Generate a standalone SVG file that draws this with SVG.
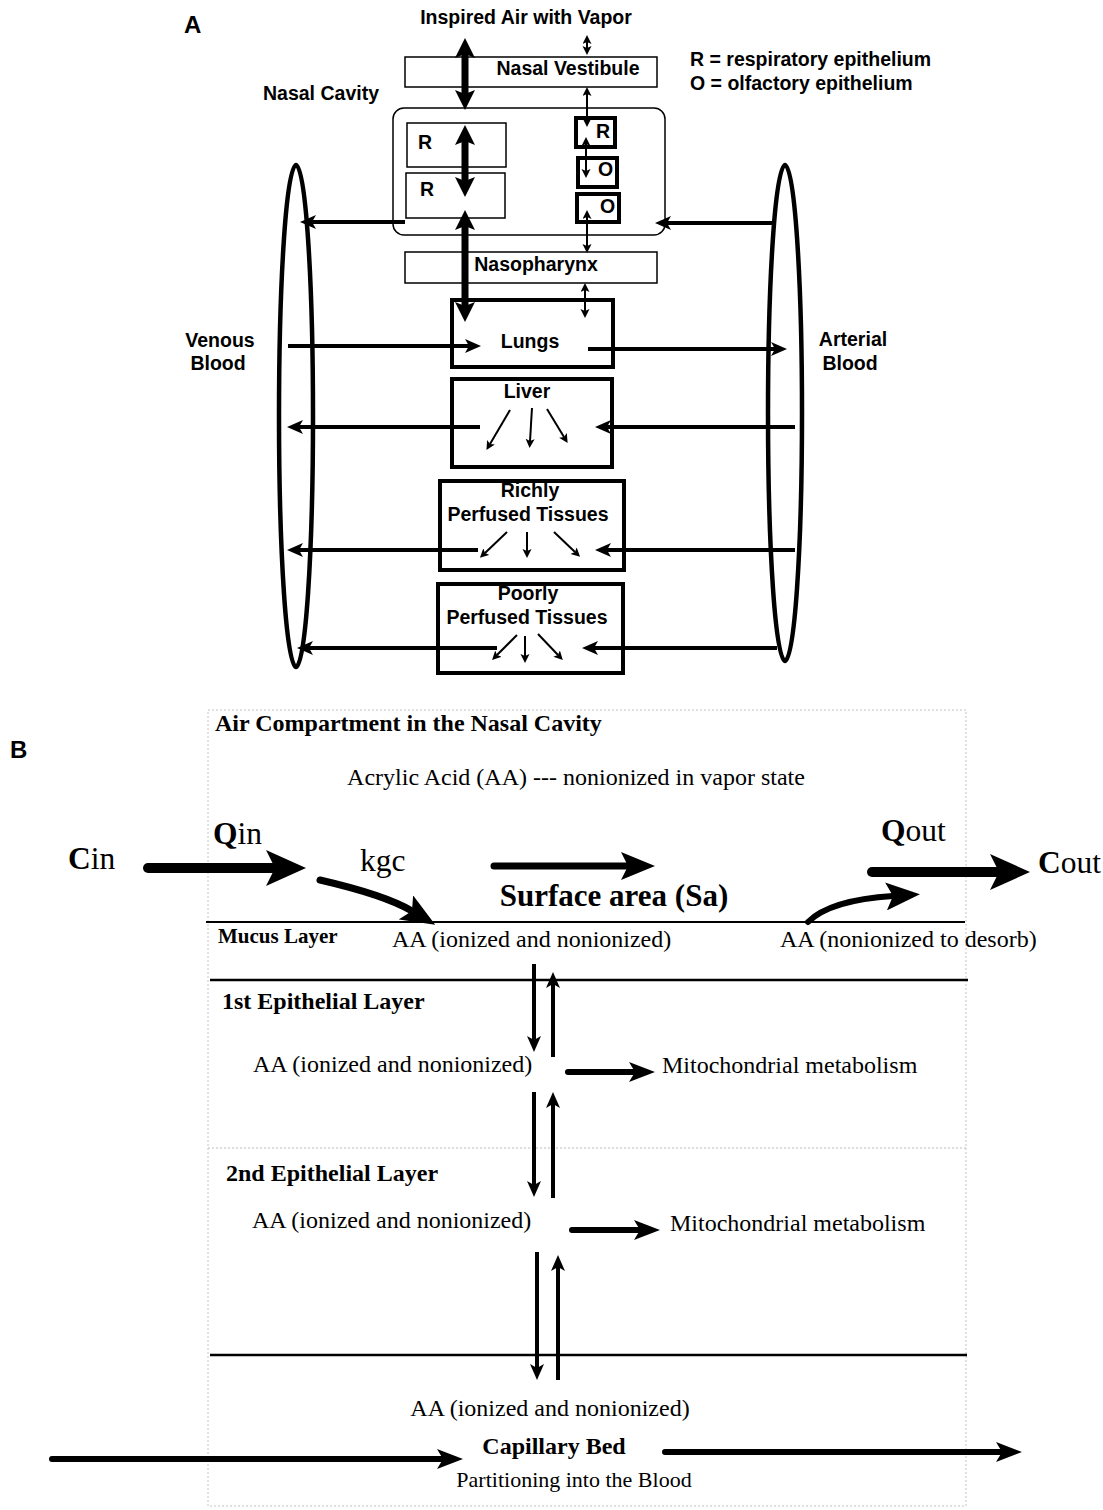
<svg xmlns="http://www.w3.org/2000/svg" width="1103" height="1510" viewBox="0 0 1103 1510">
<style>
.sa{font-family:"Liberation Sans",Arial,sans-serif;font-weight:bold;fill:#000;font-size:19.5px}
.se{font-family:"Liberation Serif","Times New Roman",serif;fill:#000;font-size:24px}
.b{font-weight:bold}
.big{font-size:31.5px}
.ln{stroke:#000;fill:none}
.box{fill:#fff;stroke:#000}
</style>
<defs>
<marker id="hA" markerUnits="userSpaceOnUse" markerWidth="20" markerHeight="20" refX="4" refY="10" orient="auto-start-reverse"><path d="M0,0 L20,10 L0,20 L4,10z" fill="#000"/></marker>
<marker id="hs" markerUnits="userSpaceOnUse" markerWidth="10" markerHeight="10" refX="2" refY="4.5" orient="auto-start-reverse"><path d="M0,0 L9,4.5 L0,9 L2,4.5z" fill="#000"/></marker>
<marker id="hm" markerUnits="userSpaceOnUse" markerWidth="16" markerHeight="14" refX="4" refY="7" orient="auto"><path d="M0,0 L16,7 L0,14 L4,7z" fill="#000"/></marker>
<marker id="hB1" markerUnits="userSpaceOnUse" markerWidth="40" markerHeight="36" refX="9" refY="18" orient="auto"><path d="M0,0 L40,18 L0,36 L9,18z" fill="#000"/></marker>
<marker id="hB2" markerUnits="userSpaceOnUse" markerWidth="34" markerHeight="28" refX="7" refY="14" orient="auto"><path d="M0,0 L34,14 L0,28 L7,14z" fill="#000"/></marker>
<marker id="hv" markerUnits="userSpaceOnUse" markerWidth="16" markerHeight="14" refX="4" refY="7" orient="auto"><path d="M0,0 L16,7 L0,14 L4,7z" fill="#000"/></marker>
<marker id="hB3" markerUnits="userSpaceOnUse" markerWidth="26" markerHeight="20" refX="6" refY="10" orient="auto"><path d="M0,0 L26,10 L0,20 L6,10z" fill="#000"/></marker>
</defs>
<rect width="1103" height="1510" fill="#fff"/>

<!-- Panel A -->
<g id="panelA">
<text class="sa" x="184" y="33" style="font-size:24px">A</text>
<text class="sa" x="526" y="24" text-anchor="middle">Inspired Air with Vapor</text>
<text class="sa" x="690" y="66">R = respiratory epithelium</text>
<text class="sa" x="690" y="90">O = olfactory epithelium</text>
</g>
<g id="nasal-vestibule"><rect class="box" x="405" y="57" width="252" height="30" stroke="#444" stroke-width="1.5"/><text class="sa" x="568" y="75" text-anchor="middle">Nasal Vestibule</text></g>
<g id="nasal-cavity">
<text class="sa" x="263" y="100">Nasal Cavity</text>
<rect class="box" x="393" y="108" width="272" height="127" rx="11" stroke-width="1.5"/>
<rect class="box" x="407" y="123" width="99" height="44" stroke="#333" stroke-width="1.5"/>
<text class="sa" x="418" y="149">R</text>
<rect class="box" x="406" y="173" width="99" height="45" stroke="#333" stroke-width="1.5"/>
<text class="sa" x="420" y="196">R</text>
<rect class="box" x="576" y="118" width="39" height="29" stroke-width="4"/>
<text class="sa" x="596" y="138">R</text>
<rect class="box" x="578" y="158" width="39" height="29" stroke-width="4"/>
<text class="sa" x="598" y="176">O</text>
<rect class="box" x="577" y="194" width="42" height="28" stroke-width="4"/>
<text class="sa" x="600" y="213">O</text>
</g>
<g id="nasopharynx"><rect class="box" x="405" y="252" width="252" height="31" stroke-width="1.5"/><text class="sa" x="536" y="271" text-anchor="middle">Nasopharynx</text></g>
<g id="lungs"><rect class="box" x="452" y="300" width="161" height="67" stroke-width="4"/><text class="sa" x="530" y="348" text-anchor="middle">Lungs</text></g>
<g id="liver"><rect class="box" x="452" y="379" width="160" height="88" stroke-width="4"/><text class="sa" x="527" y="398" text-anchor="middle">Liver</text></g>
<g id="richly"><rect class="box" x="440" y="481" width="184" height="89" stroke-width="4"/><text class="sa" x="530" y="497" text-anchor="middle">Richly</text><text class="sa" x="528" y="521" text-anchor="middle">Perfused Tissues</text></g>
<g id="poorly"><rect class="box" x="438" y="584" width="185" height="89" stroke-width="4"/><text class="sa" x="528" y="600" text-anchor="middle">Poorly</text><text class="sa" x="527" y="624" text-anchor="middle">Perfused Tissues</text></g>
<g id="venous"><ellipse cx="296" cy="416" rx="17" ry="251" fill="none" stroke="#000" stroke-width="4.5"/><text class="sa" x="220" y="347" text-anchor="middle">Venous</text><text class="sa" x="218" y="370" text-anchor="middle">Blood</text></g>
<g id="arterial"><ellipse cx="785" cy="413" rx="17" ry="248" fill="none" stroke="#000" stroke-width="4.5"/><text class="sa" x="853" y="346" text-anchor="middle">Arterial</text><text class="sa" x="850" y="370" text-anchor="middle">Blood</text></g>

<g id="connectorsA" class="ln">
<line x1="465" y1="54" x2="465" y2="94" stroke-width="7" marker-start="url(#hA)" marker-end="url(#hA)"/>
<line x1="465" y1="141" x2="465" y2="181" stroke-width="7" marker-start="url(#hA)" marker-end="url(#hA)"/>
<line x1="465" y1="226" x2="465" y2="306" stroke-width="7" marker-start="url(#hA)" marker-end="url(#hA)"/>
<line x1="587" y1="42" x2="587" y2="48" stroke-width="2" marker-start="url(#hs)" marker-end="url(#hs)"/>
<line x1="587" y1="94" x2="587" y2="120" stroke-width="2" marker-start="url(#hs)" marker-end="url(#hs)"/>
<line x1="586" y1="144" x2="586" y2="171" stroke-width="2" marker-start="url(#hs)" marker-end="url(#hs)"/>
<line x1="587" y1="217" x2="587" y2="246" stroke-width="2" marker-start="url(#hs)" marker-end="url(#hs)"/>
<line x1="585" y1="290" x2="585" y2="311" stroke-width="2" marker-start="url(#hs)" marker-end="url(#hs)"/>
<line x1="405" y1="222" x2="312" y2="222" stroke-width="4" marker-end="url(#hm)"/>
<line x1="773" y1="223" x2="667" y2="223" stroke-width="4" marker-end="url(#hm)"/>
<line x1="288" y1="346" x2="469" y2="346" stroke-width="4" marker-end="url(#hm)"/>
<line x1="588" y1="349" x2="775" y2="349" stroke-width="4" marker-end="url(#hm)"/>
<line x1="795" y1="427" x2="607" y2="427" stroke-width="4" marker-end="url(#hm)"/>
<line x1="480" y1="427" x2="299" y2="427" stroke-width="4" marker-end="url(#hm)"/>
<line x1="795" y1="550" x2="607" y2="550" stroke-width="4" marker-end="url(#hm)"/>
<line x1="478" y1="550" x2="299" y2="550" stroke-width="4" marker-end="url(#hm)"/>
<line x1="777" y1="648" x2="594" y2="648" stroke-width="4" marker-end="url(#hm)"/>
<line x1="497" y1="648" x2="309" y2="648" stroke-width="4" marker-end="url(#hm)"/>
<line x1="510" y1="410" x2="490" y2="444" stroke-width="2" marker-end="url(#hs)"/>
<line x1="532" y1="408" x2="530" y2="441" stroke-width="2" marker-end="url(#hs)"/>
<line x1="547" y1="409" x2="564" y2="437" stroke-width="2" marker-end="url(#hs)"/>
<line x1="507" y1="532" x2="485" y2="553" stroke-width="2" marker-end="url(#hs)"/>
<line x1="527" y1="532" x2="527" y2="551" stroke-width="2" marker-end="url(#hs)"/>
<line x1="554" y1="532" x2="575" y2="552" stroke-width="2" marker-end="url(#hs)"/>
<line x1="517" y1="635" x2="497" y2="655" stroke-width="2" marker-end="url(#hs)"/>
<line x1="525" y1="636" x2="525" y2="656" stroke-width="2" marker-end="url(#hs)"/>
<line x1="538" y1="634" x2="558" y2="655" stroke-width="2" marker-end="url(#hs)"/>
</g>

<!-- Panel B -->
<g id="panelB">
<text class="sa" x="10" y="758" style="font-size:24px">B</text>
<rect x="208" y="710" width="758" height="796" fill="none" stroke="#c4c4c4" stroke-width="1" stroke-dasharray="2,2"/>
<line x1="208" y1="1148" x2="966" y2="1148" stroke="#bbb" stroke-width="1" stroke-dasharray="2,2"/>
<line x1="206" y1="922" x2="965" y2="922" stroke="#000" stroke-width="2.2"/>
<line x1="210" y1="980" x2="968" y2="980" stroke="#000" stroke-width="2.5"/>
<line x1="210" y1="1355" x2="967" y2="1355" stroke="#000" stroke-width="2.5"/>
</g>
<g id="air-compartment">
<text class="se b" x="215" y="731">Air Compartment in the Nasal Cavity</text>
<text class="se" x="576" y="785" text-anchor="middle">Acrylic Acid (AA) --- nonionized in vapor state</text>
<text class="se big" x="68" y="869"><tspan class="b">C</tspan>in</text>
<text class="se big" x="213" y="844"><tspan class="b">Q</tspan>in</text>
<text class="se big" x="360" y="871">kgc</text>
<text class="se b" x="614" y="906" style="font-size:31px" text-anchor="middle">Surface area (Sa)</text>
<text class="se big" x="881" y="841"><tspan class="b">Q</tspan>out</text>
<text class="se big" x="1038" y="873"><tspan class="b">C</tspan>out</text>
</g>
<g id="mucus-layer">
<text class="se b" x="218" y="943" style="font-size:21px">Mucus Layer</text>
<text class="se" x="392" y="947">AA (ionized and nonionized)</text>
<text class="se" x="780" y="947">AA (nonionized to desorb)</text>
</g>
<g id="epithelial-1">
<text class="se b" x="222" y="1009">1st Epithelial Layer</text>
<text class="se" x="253" y="1072">AA (ionized and nonionized)</text>
<text class="se" x="662" y="1073">Mitochondrial metabolism</text>
</g>
<g id="epithelial-2">
<text class="se b" x="226" y="1181">2nd Epithelial Layer</text>
<text class="se" x="252" y="1228">AA (ionized and nonionized)</text>
<text class="se" x="670" y="1231">Mitochondrial metabolism</text>
</g>
<g id="capillary-bed">
<text class="se" x="550" y="1416" text-anchor="middle">AA (ionized and nonionized)</text>
<text class="se b" x="554" y="1454" text-anchor="middle">Capillary Bed</text>
<text class="se" x="574" y="1487" style="font-size:22px" text-anchor="middle">Partitioning into the Blood</text>
</g>

<g id="connectorsB" class="ln" stroke-linecap="round">
<line x1="148" y1="868" x2="275" y2="868" stroke-width="10" marker-end="url(#hB1)"/>
<line x1="872" y1="872" x2="999" y2="872" stroke-width="10" marker-end="url(#hB1)"/>
<line x1="494" y1="866" x2="628" y2="866" stroke-width="7" marker-end="url(#hB2)"/>
<path d="M320,880 Q385,895 412,911" stroke-width="7" marker-end="url(#hB2)"/>
<path d="M808,922 Q830,900 893,896" stroke-width="6" marker-end="url(#hB2)"/>
<line x1="534" y1="964" x2="534" y2="1040" stroke-width="4" stroke-linecap="butt" marker-end="url(#hv)"/>
<line x1="553" y1="1057" x2="553" y2="984" stroke-width="4" stroke-linecap="butt" marker-end="url(#hv)"/>
<line x1="534" y1="1092" x2="534" y2="1185" stroke-width="4" stroke-linecap="butt" marker-end="url(#hv)"/>
<line x1="553" y1="1198" x2="553" y2="1104" stroke-width="4" stroke-linecap="butt" marker-end="url(#hv)"/>
<line x1="537" y1="1252" x2="537" y2="1368" stroke-width="4" stroke-linecap="butt" marker-end="url(#hv)"/>
<line x1="558" y1="1380" x2="558" y2="1267" stroke-width="4" stroke-linecap="butt" marker-end="url(#hv)"/>
<line x1="568" y1="1072" x2="635" y2="1072" stroke-width="6" marker-end="url(#hB3)"/>
<line x1="572" y1="1230" x2="640" y2="1230" stroke-width="6" marker-end="url(#hB3)"/>
<line x1="52" y1="1459" x2="443" y2="1459" stroke-width="6" marker-end="url(#hB3)"/>
<line x1="665" y1="1452" x2="1002" y2="1452" stroke-width="6" marker-end="url(#hB3)"/>
</g>
</svg>
